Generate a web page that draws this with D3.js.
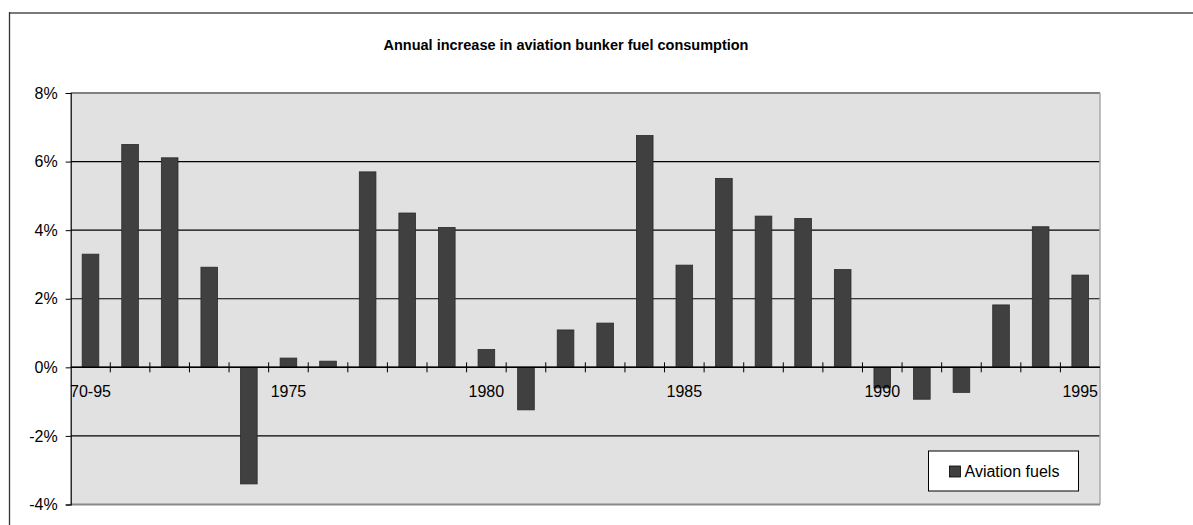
<!DOCTYPE html>
<html>
<head>
<meta charset="utf-8">
<script src="https://cdn.jsdelivr.net/npm/d3@7"></script>
<style>
  body { margin: 0; background: #fff; }
  text { font-family: "Liberation Sans", Arial, sans-serif; }
</style>
</head>
<body>
<div id="chart"></div>
<script>
const categories = ["70-95", "1971", "1972", "1973", "1974", "1975", "1976", "1977", "1978", "1979",
  "1980", "1981", "1982", "1983", "1984", "1985", "1986", "1987", "1988", "1989",
  "1990", "1991", "1992", "1993", "1994", "1995"];
const aviationFuels = [3.30, 6.50, 6.11, 2.92, -3.40, 0.27, 0.18, 5.70, 4.50, 4.08,
  0.52, -1.24, 1.09, 1.29, 6.76, 2.98, 5.51, 4.41, 4.34, 2.85,
  -0.60, -0.93, -0.73, 1.82, 4.10, 2.69];
const shownLabels = ["70-95", "1975", "1980", "1985", "1990", "1995"];
const yTicks = [-4, -2, 0, 2, 4, 6, 8];
const seriesName = "Aviation fuels";
const chartTitle = "Annual increase in aviation bunker fuel consumption";

const W = 1193, H = 525;
const margin = {top: 93, right: 93, bottom: 20.5, left: 70.7};
const width = W - margin.left - margin.right,
      height = H - margin.top - margin.bottom;

const svg = d3.select("#chart").append("svg")
    .attr("width", W).attr("height", H);

// outer chart border (only top and left visible)
svg.append("line").attr("x1", 9).attr("x2", W).attr("y1", 13).attr("y2", 13)
    .attr("stroke", "#7a7a7a").attr("stroke-width", 2);
svg.append("line").attr("x1", 9.5).attr("x2", 9.5).attr("y1", 12).attr("y2", H)
    .attr("stroke", "#333").attr("stroke-width", 1.3);

// title
svg.append("text")
    .attr("x", 566).attr("y", 50)
    .attr("text-anchor", "middle")
    .style("font-size", "14.5px").style("font-weight", "bold")
    .text(chartTitle);

const g = svg.append("g")
    .attr("transform", "translate(" + margin.left + "," + margin.top + ")");

const x = d3.scaleBand().domain(categories).range([0, width]).paddingInner(0.58).paddingOuter(0.29);
const xTickScale = d3.scaleBand().domain(categories).range([0, width]);
const y = d3.scaleLinear().domain([-4, 8]).range([height, 0]);

// plot background
g.append("rect").attr("width", width).attr("height", height).attr("fill", "#e1e1e1");

// gridlines
g.append("g").selectAll("line")
    .data(yTicks.filter(d => d > -4 && d < 8))
    .join("line")
    .attr("x1", 0).attr("x2", width)
    .attr("y1", d => y(d)).attr("y2", d => y(d))
    .attr("stroke", "#000").attr("stroke-width", 1.2);

// plot border
g.append("line").attr("x1", 0).attr("x2", width).attr("y1", 0).attr("y2", 0)
    .attr("stroke", "#808080").attr("stroke-width", 2);
g.append("line").attr("x1", width).attr("x2", width).attr("y1", 0).attr("y2", height)
    .attr("stroke", "#aaa").attr("stroke-width", 1.5);
g.append("line").attr("x1", 0).attr("x2", width).attr("y1", height).attr("y2", height)
    .attr("stroke", "#888").attr("stroke-width", 2);

// bars
g.append("g").selectAll("rect")
    .data(aviationFuels)
    .join("rect")
    .attr("x", (d, i) => x(categories[i]))
    .attr("width", x.bandwidth())
    .attr("y", d => y(Math.max(0, d)))
    .attr("height", d => Math.abs(y(d) - y(0)))
    .attr("fill", "#404040")
    .attr("stroke", "#2a2a2a").attr("stroke-width", 0.8);

// y axis
const yAxis = g.append("g")
    .call(d3.axisLeft(y).tickValues(yTicks).tickSize(5).tickPadding(8).tickFormat(d => d + "%"));
yAxis.select(".domain").attr("stroke", "#000").attr("stroke-width", 1.2);
yAxis.selectAll(".tick line").attr("stroke", "#000");
yAxis.selectAll(".tick text")
    .style("font-size", "16px").attr("fill", "#000")
    .style("font-family", "Liberation Sans, Arial, sans-serif");

// x axis along 0
const xAxisG = g.append("g").attr("transform", "translate(0," + y(0) + ")");
xAxisG.append("line").attr("x1", 0).attr("x2", width).attr("stroke", "#000").attr("stroke-width", 1.5);
xAxisG.selectAll(".xtick")
    .data(categories.slice(1))
    .join("line")
    .attr("x1", d => xTickScale(d)).attr("x2", d => xTickScale(d))
    .attr("y1", -5).attr("y2", 5)
    .attr("stroke", "#000");
xAxisG.selectAll(".xlabel")
    .data(shownLabels)
    .join("text")
    .attr("x", d => xTickScale(d) + xTickScale.bandwidth() / 2)
    .attr("y", 30)
    .attr("text-anchor", "middle")
    .style("font-size", "16px")
    .text(d => d);

// legend
const legend = svg.append("g").attr("transform", "translate(928.5,451)");
legend.append("rect").attr("width", 150).attr("height", 40)
    .attr("fill", "#fff").attr("stroke", "#000");
legend.append("rect").attr("x", 21).attr("y", 15).attr("width", 11).attr("height", 11)
    .attr("fill", "#404040").attr("stroke", "#000").attr("stroke-width", 0.8);
legend.append("text").attr("x", 36).attr("y", 26)
    .style("font-size", "16px").text(seriesName);
</script>
</body>
</html>
